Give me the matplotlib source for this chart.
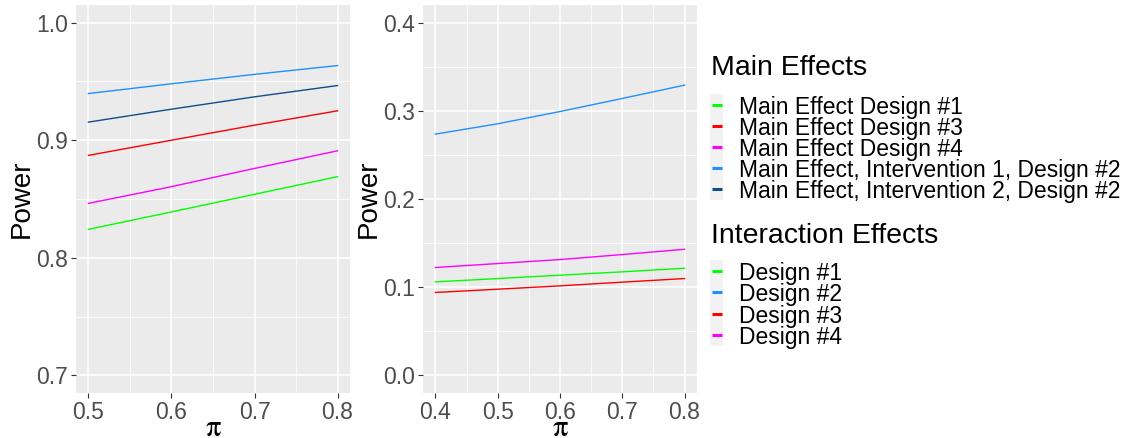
import matplotlib
matplotlib.use("Agg")
import matplotlib.pyplot as plt
from matplotlib.lines import Line2D
from matplotlib.patches import Rectangle

plt.rcParams['font.family'] = ['Liberation Sans', 'DejaVu Sans']
plt.rcParams['mathtext.fontset'] = 'stix'

# ---------------- data ----------------
pi_main = [0.5, 0.6, 0.7, 0.8]
main_design1 = [0.8242, 0.8390, 0.8540, 0.8690]
main_design3 = [0.8871, 0.9000, 0.9128, 0.9250]
main_design4 = [0.8463, 0.8605, 0.8760, 0.8910]
main_int1_design2 = [0.9397, 0.9480, 0.9560, 0.9635]
main_int2_design2 = [0.9154, 0.9264, 0.9369, 0.9465]

pi_inter = [0.4, 0.5, 0.6, 0.7, 0.8]
inter_design1 = [0.1060, 0.1098, 0.1136, 0.1174, 0.1215]
inter_design2 = [0.2736, 0.2853, 0.2992, 0.3140, 0.3291]
inter_design3 = [0.0940, 0.0977, 0.1015, 0.1057, 0.1098]
inter_design4 = [0.1223, 0.1268, 0.1313, 0.1370, 0.1430]

main_labels = ["Main Effect Design #1", "Main Effect Design #3", "Main Effect Design #4",
               "Main Effect, Intervention 1, Design #2", "Main Effect, Intervention 2, Design #2"]
inter_labels = ["Design #1", "Design #2", "Design #3", "Design #4"]

GREEN, RED, MAGENTA, LBLUE, DBLUE = "#00FF00", "#FF0000", "#FF00FF", "#1E90FF", "#104E8B"
main_colors = [GREEN, RED, MAGENTA, LBLUE, DBLUE]
inter_colors = [GREEN, LBLUE, RED, MAGENTA]

W, H = 1125, 438
fig = plt.figure(figsize=(W / 100, H / 100), dpi=100)
fig.patch.set_facecolor("white")


def px_axes(x0, x1, y0, y1):
    return fig.add_axes([x0 / W, 1 - y1 / H, (x1 - x0) / W, (y1 - y0) / H])


def style(ax, xlim, ylim, xticks, yticks, xminor, yminor):
    ax.set_facecolor("#EBEBEB")
    ax.set_xlim(*xlim)
    ax.set_ylim(*ylim)
    ax.set_xticks(xticks)
    ax.set_yticks(yticks)
    ax.set_xticks(xminor, minor=True)
    ax.set_yticks(yminor, minor=True)
    ax.grid(which="major", color="white", linewidth=1.1)
    ax.grid(which="minor", color="white", linewidth=0.55)
    ax.set_axisbelow(True)
    for s in ax.spines.values():
        s.set_visible(False)
    ax.tick_params(which="major", length=3.8, width=0.8, color="#333333",
                   labelsize=16.5, labelcolor="#4D4D4D", pad=2)
    ax.tick_params(which="minor", length=0)
    ax.set_xlabel(r"$\mathrm{\pi}$", fontsize=22, va="center")
    ax.xaxis.set_label_coords(0.5, -0.091)
    ax.set_ylabel("Power", fontsize=20, va="center")
    ax.yaxis.set_label_coords(-0.197, 0.5)
    ax.set_yticklabels([f"{v:.1f}" for v in yticks])
    ax.set_xticklabels([f"{v:.1f}" for v in xticks])


ax1 = px_axes(76, 350, 5, 393)
ax1.plot(pi_main, main_design1, color=GREEN, lw=1.0)
ax1.plot(pi_main, main_design3, color=RED, lw=1.0)
ax1.plot(pi_main, main_design4, color=MAGENTA, lw=1.0)
ax1.plot(pi_main, main_int1_design2, color=LBLUE, lw=1.0)
ax1.plot(pi_main, main_int2_design2, color=DBLUE, lw=1.0)
style(ax1, (0.485, 0.815), (0.685, 1.015), [0.5, 0.6, 0.7, 0.8], [0.7, 0.8, 0.9, 1.0],
      [0.55, 0.65, 0.75], [0.75, 0.85, 0.95])

ax2 = px_axes(423, 697, 5, 393)
ax2.plot(pi_inter, inter_design1, color=GREEN, lw=1.0)
ax2.plot(pi_inter, inter_design2, color=LBLUE, lw=1.0)
ax2.plot(pi_inter, inter_design3, color=RED, lw=1.0)
ax2.plot(pi_inter, inter_design4, color=MAGENTA, lw=1.0)
style(ax2, (0.38, 0.82), (-0.02, 0.42), [0.4, 0.5, 0.6, 0.7, 0.8], [0.0, 0.1, 0.2, 0.3, 0.4],
      [0.45, 0.55, 0.65, 0.75], [0.05, 0.15, 0.25, 0.35])


# ---------------- legends (manual, ggplot style) ----------------
def fx(x):
    return x / W


def fy(y):
    return 1 - y / H


def legend_block(title, title_base, labels, colors, first_center, step):
    fig.text(fx(711), fy(title_base), title, fontsize=20.5, color="black",
             ha="left", va="baseline")
    top = first_center - step / 2 - 0.5
    bottom = first_center + step * (len(labels) - 0.5) + 0.5
    fig.add_artist(Rectangle((fx(710), fy(bottom)), fx(13), (bottom - top) / H,
                             transform=fig.transFigure, facecolor="#F2F2F2",
                             edgecolor="none"))
    for i, (lab, col) in enumerate(zip(labels, colors)):
        yc = first_center + i * step
        fig.add_artist(Line2D([fx(712), fx(722)], [fy(yc), fy(yc)],
                              transform=fig.transFigure, color=col, lw=2.2,
                              solid_capstyle="butt"))
        fig.text(fx(739), fy(yc), lab, fontsize=16.5, color="black",
                 ha="left", va="center_baseline")


legend_block("Main Effects", 75, main_labels, main_colors, 105, 21)
legend_block("Interaction Effects", 243, inter_labels, inter_colors, 271, 21.3)

fig.savefig("out.png", dpi=100)
